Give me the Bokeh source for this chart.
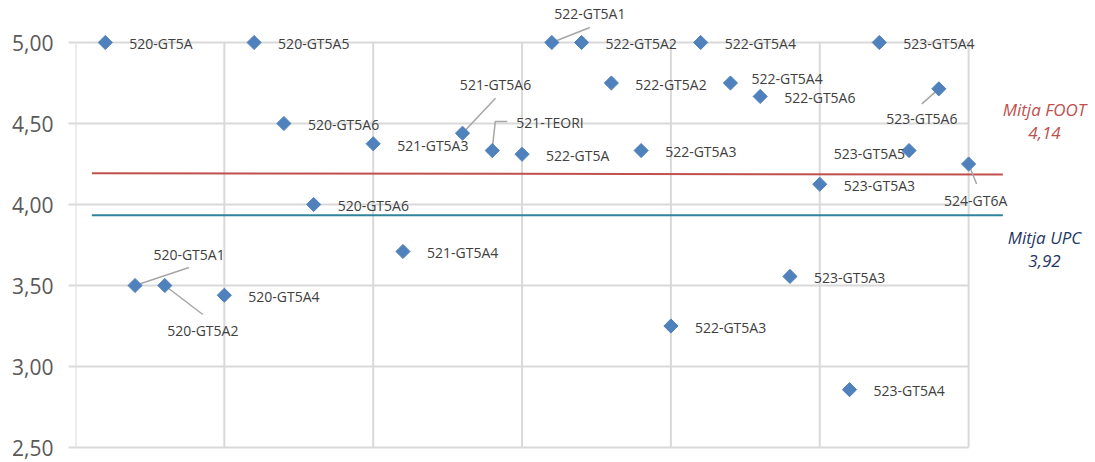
import math
from bokeh.plotting import figure
from bokeh.models import ColumnDataSource, FixedTicker, Range1d
from bokeh.core.properties import value
from bokeh.embed import file_html
from bokeh.resources import INLINE

# ---- data ----
idx = list(range(1, 31))
labels = ["520-GT5A", "520-GT5A1", "520-GT5A2", None, "520-GT5A4", "520-GT5A5", "520-GT5A6", "520-GT5A6",
          None, "521-GT5A3", "521-GT5A4", None, "521-GT5A6", "521-TEORI", "522-GT5A", "522-GT5A1",
          "522-GT5A2", "522-GT5A2", "522-GT5A3", "522-GT5A3", "522-GT5A4", "522-GT5A4", "522-GT5A6",
          "523-GT5A3", "523-GT5A3", "523-GT5A4", "523-GT5A4", "523-GT5A5", "523-GT5A6", "524-GT6A"]
scores = [5.00, 3.50, 3.50, None, 3.44, 5.00, 4.50, 4.00,
          None, 4.375, 3.71, None, 4.44, 4.333, 4.31, 5.00,
          5.00, 4.75, 4.333, 3.25, 5.00, 4.75, 4.667,
          3.556, 4.125, 2.857, 5.00, 4.333, 4.714, 4.25]
mean_foot = 4.14
mean_upc = 3.92
foot_line_y = [4.193, 4.185]
upc_line_y = [3.934, 3.934]
mean_line_x = [0.55, 31.15]
y_ticks = [2.5, 3.0, 3.5, 4.0, 4.5, 5.0]
x_grid = [0, 5, 10, 15, 20, 25, 30]

pts = [(x, y, l) for x, y, l in zip(idx, scores, labels) if y is not None]
px = [p[0] for p in pts]
py = [p[1] for p in pts]
pl = [p[2] for p in pts]

# ---- label placement (pixels, relative to marker; y down) ----
special = {
    (2, 3.50): (54, -31, "center", [(0, 0), (54, -18)]),
    (3, 3.50): (38, 45, "center", [(0, 0), (38, 29)]),
    (16, 5.00): (38, -29, "center", [(0, 0), (38, -15)]),
    (13, 4.44): (33, -49, "center", [(0, 0), (33, -35)]),
    (14, 4.333): (24, -28, "left", [(0, -2), (3, -29), (15, -29)]),
    (29, 4.714): (-17, 30, "center", [(0, 0), (-17, 15)]),
    (30, 4.25): (7, 36, "center", [(0, 0), (8, 20)]),
    (28, 4.333): (-4, 3, "right", None),
    (22, 4.75): (21, -5, "left", None),
    (10, 4.375): (24, 2, "left", None),
}

W, H = 1095, 462
LEFT = 75
x0, x1 = 0.0, (W - LEFT) / 29.77
y1 = 5.0 + 42 / 162.0
y0 = 2.5 - (H - 447) / 162.0
XPX = (W - LEFT) / (x1 - x0)
YPX = H / (y1 - y0)

p = figure(width=W, height=H, output_backend="svg", toolbar_location=None,
           x_range=Range1d(x0, x1), y_range=Range1d(y0, y1),
           min_border_left=LEFT, min_border_right=0, min_border_top=0, min_border_bottom=0)
p.outline_line_color = None
p.xgrid.visible = False
p.ygrid.visible = False
p.xaxis.visible = False

yax = p.yaxis[0]
yax.ticker = FixedTicker(ticks=y_ticks)
yax.major_label_overrides = {t: f"{t:.2f}".replace(".", ",") for t in y_ticks}
yax.axis_line_color = None
yax.major_tick_in = 0
yax.major_tick_out = 7
yax.major_tick_line_color = "#d9d9d9"
yax.major_tick_line_width = 2
yax.minor_tick_line_color = None
yax.major_label_standoff = 15
yax.major_label_text_font = "Open Sans"
yax.major_label_text_font_size = "21px"
yax.major_label_text_color = "#595959"

GRID = "#d9d9d9"
p.segment(x0=[0] * len(y_ticks), x1=[30] * len(y_ticks), y0=y_ticks, y1=y_ticks,
          line_color=GRID, line_width=2)
p.segment(x0=x_grid, x1=x_grid, y0=[2.5] * len(x_grid), y1=[5.0] * len(x_grid),
          line_color=GRID, line_width=2)

# mean lines
p.line(mean_line_x, foot_line_y, line_color="#c0504d", line_width=2)
p.line(mean_line_x, upc_line_y, line_color="#31849b", line_width=2)

# leader lines
lx, ly = [], []
for x, y in zip(px, py):
    s = special.get((x, y))
    if s and s[3]:
        lx.append([x + a / XPX for a, b in s[3]])
        ly.append([y - b / YPX for a, b in s[3]])
p.multi_line(lx, ly, line_color="#a6a6a6", line_width=1.5)

# markers
p.scatter(px, py, marker="square", angle=math.pi / 4, size=10,
          fill_color="#4f81bd", line_color="#4f81bd")

# data labels
groups = {"left": ([], [], [], [], []), "center": ([], [], [], [], []), "right": ([], [], [], [], [])}
for x, y, l in zip(px, py, pl):
    s = special.get((x, y))
    if s:
        dx, dy, al = s[0], s[1], s[2]
    else:
        dx, dy, al = 24, 1, "left"
    g = groups[al]
    g[0].append(x); g[1].append(y); g[2].append(l); g[3].append(dx); g[4].append(dy)
for al, g in groups.items():
    if not g[0]:
        continue
    src = ColumnDataSource(dict(x=g[0], y=g[1], t=g[2], dx=g[3], dy=g[4]))
    p.text(x="x", y="y", text="t", x_offset="dx", y_offset="dy", source=src,
           text_align=al, text_baseline="middle", text_font=value("Open Sans"),
           text_font_size="14px", text_color="#404040")

# mean annotations
tx = (1044 - LEFT) / XPX
p.text(x=[tx, tx], y=[5.0 - (109 - 42) / YPX, 5.0 - (132 - 42) / YPX],
       text=["Mitja FOOT", f"{mean_foot:.2f}".replace(".", ",")],
       text_align="center", text_baseline="middle", text_font=value("Open Sans"),
       text_font_style="italic", text_font_size="17px", text_color="#c0504d")
p.text(x=[tx, tx], y=[5.0 - (237 - 42) / YPX, 5.0 - (260 - 42) / YPX],
       text=["Mitja UPC", f"{mean_upc:.2f}".replace(".", ",")],
       text_align="center", text_baseline="middle", text_font=value("Open Sans"),
       text_font_style="italic", text_font_size="17px", text_color="#1f3864")

open("out.html", "w").write(file_html(p, INLINE))
